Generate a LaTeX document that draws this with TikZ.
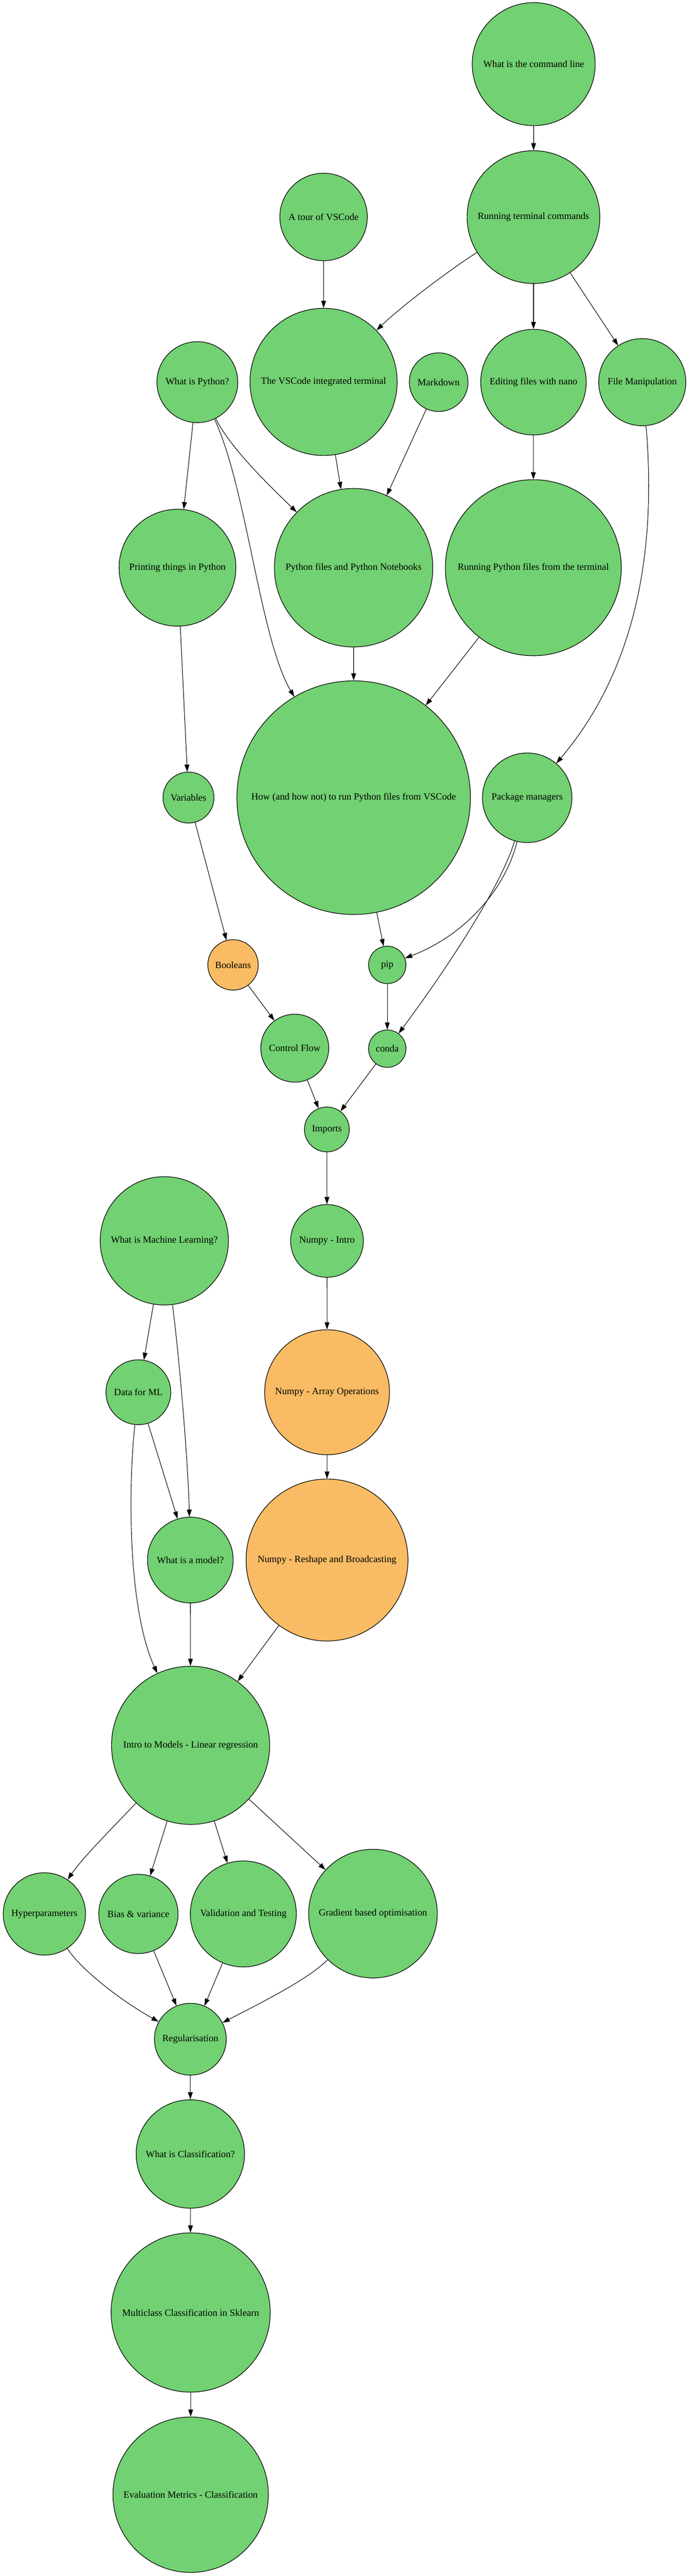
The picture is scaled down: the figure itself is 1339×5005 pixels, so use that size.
\documentclass[tikz,border=0pt]{standalone}
\usepackage{fontspec}
\setmainfont{Liberation Serif}
\usetikzlibrary{arrows.meta}
\definecolor{gr}{RGB}{114,209,114}
\definecolor{orng}{RGB}{249,188,100}
\tikzset{
  nd/.style={circle, draw=black, line width=0.9pt, fill=gr, inner sep=0pt,
    font=\fontsize{14}{16}\selectfont, text=black},
  ornd/.style={nd, fill=orng},
  edge/.style={draw=black, line width=0.8pt, -{Triangle[length=10.5pt,width=7pt]}}
}
\begin{document}
\begin{tikzpicture}[x=0.75pt,y=-0.75pt]
\useasboundingbox (0,0) rectangle (1339,5005);
% nodes
\node[nd, minimum size=179.3pt] (cmdline) at (1037.5,124.6) {What is the command line};
\node[nd, minimum size=193.5pt] (running) at (1037,421.8) {Running terminal commands};
\node[nd, minimum size=127.5pt] (tour) at (629,421.5) {A tour of VSCode};
\node[nd, minimum size=214.5pt] (term) at (629,742) {The VSCode integrated terminal};
\node[nd, minimum size=117.9pt] (whatpy) at (383.6,742.5) {What is Python?};
\node[nd, minimum size=85.5pt] (markdown) at (852.7,742.5) {Markdown};
\node[nd, minimum size=153.8pt] (nano) at (1037,742.5) {Editing files with nano};
\node[nd, minimum size=127pt] (fileman) at (1248.5,742.5) {File Manipulation};
\node[nd, minimum size=170.3pt] (printing) at (345,1103) {Printing things in Python};
\node[nd, minimum size=231pt] (pyfiles) at (687.4,1103) {Python files and Python Notebooks};
\node[nd, minimum size=256.5pt] (runpy) at (1036.7,1103) {Running Python files from the terminal};
\node[nd, minimum size=340.5pt] (how) at (687.5,1549.8) {How (and how not) to run Python files from VSCode};
\node[nd, minimum size=74.3pt] (vars) at (366.4,1549.6) {Variables};
\node[nd, minimum size=130.5pt] (pkg) at (1024.8,1550) {Package managers};
\node[ornd, minimum size=73.5pt] (bools) at (453,1874.7) {Booleans};
\node[nd, minimum size=54.5pt] (pip) at (752.8,1874.7) {pip};
\node[nd, minimum size=99pt] (control) at (573,2036.5) {Control Flow};
\node[nd, minimum size=54.5pt] (conda) at (752.8,2037.5) {conda};
\node[nd, minimum size=65.4pt] (imports) at (635.4,2194.4) {Imports};
\node[nd, minimum size=187pt] (ml) at (319.4,2410.8) {What is Machine Learning?};
\node[nd, minimum size=106pt] (npintro) at (635.6,2411) {Numpy - Intro};
\node[nd, minimum size=94.5pt] (data) at (269,2705) {Data for ML};
\node[ornd, minimum size=182pt] (arrops) at (635.8,2705) {Numpy - Array Operations};
\node[nd, minimum size=125pt] (model) at (370,3031) {What is a model?};
\node[ornd, minimum size=236pt] (reshape) at (635.7,3031) {Numpy - Reshape and Broadcasting};
\node[nd, minimum size=230.5pt] (intro) at (370.5,3391) {Intro to Models - Linear regression};
\node[nd, minimum size=120pt] (hyper) at (86.3,3718.6) {Hyperparameters};
\node[nd, minimum size=115.5pt] (bias) at (269,3718.6) {Bias \& variance};
\node[nd, minimum size=154.5pt] (valid) at (473,3718.6) {Validation and Testing};
\node[nd, minimum size=187.5pt] (grad) at (725,3718) {Gradient based optimisation};
\node[nd, minimum size=104.7pt] (reg) at (370,3962) {Regularisation};
\node[nd, minimum size=158pt] (classif) at (370,4185) {What is Classification?};
\node[nd, minimum size=232pt] (multi) at (370.6,4493) {Multiclass Classification in Sklearn};
\node[nd, minimum size=226.5pt] (evalm) at (370.6,4847) {Evaluation Metrics - Classification};
% edges
\draw[edge] (cmdline) -- (running);
\draw[edge] (running) .. controls (880,520) and (780,595) .. (term);
\draw[edge] (running) -- (nano);
\draw[edge] (running) -- (fileman);
\draw[edge] (tour) -- (term);
\draw[edge] (term) -- (pyfiles);
\draw[edge] (markdown) -- (pyfiles);
\draw[edge] (whatpy) -- (printing);
\draw[edge] (whatpy) .. controls (448,870) and (515,935) .. (pyfiles);
\draw[edge] (whatpy) .. controls (480,950) and (505,1240) .. (how);
\draw[edge] (nano) -- (runpy);
\draw[edge] (fileman) .. controls (1275,1050) and (1245,1290) .. (pkg);
\draw[edge] (printing) -- (vars);
\draw[edge] (pyfiles) -- (how);
\draw[edge] (runpy) -- (how);
\draw[edge] (vars) -- (bools);
\draw[edge] (how) -- (pip);
\draw[edge] (pkg) .. controls (985,1720) and (910,1815) .. (pip);
\draw[edge] (pkg) .. controls (975,1720) and (870,1880) .. (conda);
\draw[edge] (bools) -- (control);
\draw[edge] (pip) -- (conda);
\draw[edge] (control) -- (imports);
\draw[edge] (conda) -- (imports);
\draw[edge] (imports) -- (npintro);
\draw[edge] (npintro) -- (arrops);
\draw[edge] (arrops) -- (reshape);
\draw[edge] (ml) -- (data);
\draw[edge] (ml) .. controls (350,2650) and (366,2850) .. (model);
\draw[edge] (data) -- (model);
\draw[edge] (data) .. controls (248,2900) and (250,3130) .. (intro);
\draw[edge] (model) -- (intro);
\draw[edge] (reshape) -- (intro);
\draw[edge] (intro) .. controls (220,3550) and (160,3610) .. (hyper);
\draw[edge] (intro) -- (bias);
\draw[edge] (intro) -- (valid);
\draw[edge] (intro) -- (grad);
\draw[edge] (hyper) .. controls (160,3830) and (240,3890) .. (reg);
\draw[edge] (bias) -- (reg);
\draw[edge] (valid) -- (reg);
\draw[edge] (grad) .. controls (600,3845) and (510,3890) .. (reg);
\draw[edge] (reg) -- (classif);
\draw[edge] (classif) -- (multi);
\draw[edge] (multi) -- (evalm);
\end{tikzpicture}
\end{document}
